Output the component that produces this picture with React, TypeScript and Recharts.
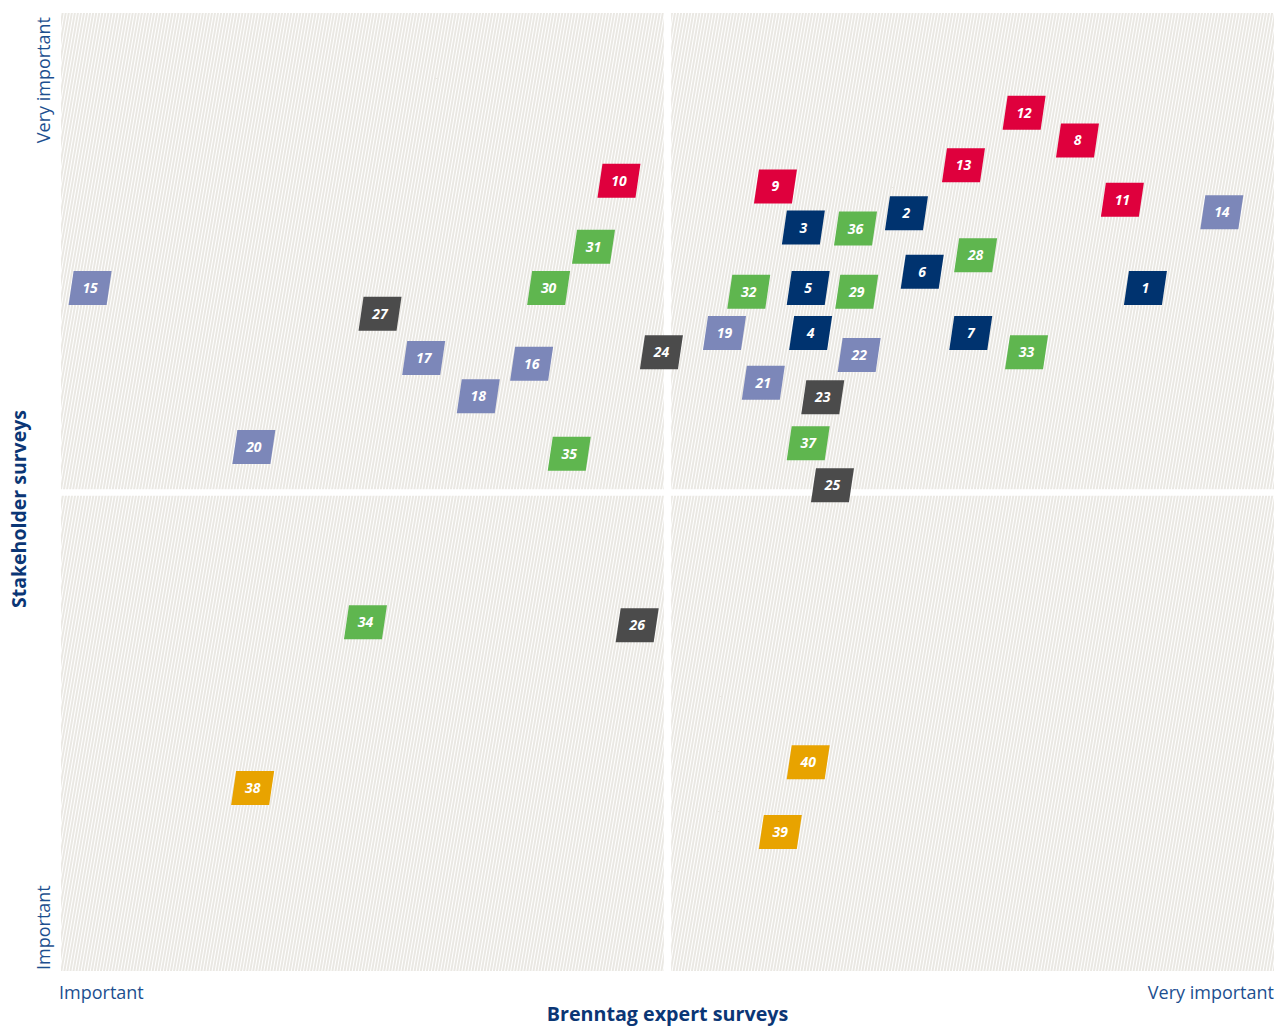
import {
  ScatterChart,
  Scatter,
  XAxis,
  YAxis,
  ReferenceArea,
} from "recharts"

// topic groups, values read from the matrix (0 = important, 100 = very important)
const economy = [
  { id: 1, x: 89.4, y: 71.3 },
  { id: 2, x: 69.7, y: 79.1 },
  { id: 3, x: 61.2, y: 77.6 },
  { id: 4, x: 61.8, y: 66.6 },
  { id: 5, x: 61.6, y: 71.3 },
  { id: 6, x: 71.0, y: 73.0 },
  { id: 7, x: 75.0, y: 66.6 },
]

const safety = [
  { id: 8, x: 83.8, y: 86.7 },
  { id: 9, x: 58.9, y: 81.9 },
  { id: 10, x: 46.0, y: 82.5 },
  { id: 11, x: 87.5, y: 80.5 },
  { id: 12, x: 79.4, y: 89.6 },
  { id: 13, x: 74.4, y: 84.1 },
]

const social = [
  { id: 14, x: 95.7, y: 79.2 },
  { id: 15, x: 2.4, y: 71.3 },
  { id: 16, x: 38.8, y: 63.4 },
  { id: 17, x: 29.9, y: 64.0 },
  { id: 18, x: 34.4, y: 60.0 },
  { id: 19, x: 54.7, y: 66.6 },
  { id: 20, x: 15.9, y: 54.7 },
  { id: 21, x: 57.9, y: 61.4 },
  { id: 22, x: 65.8, y: 64.3 },
]

const governance = [
  { id: 23, x: 62.8, y: 59.9 },
  { id: 24, x: 49.5, y: 64.6 },
  { id: 25, x: 63.6, y: 50.7 },
  { id: 26, x: 47.5, y: 36.1 },
  { id: 27, x: 26.3, y: 68.6 },
]

const environment = [
  { id: 28, x: 75.4, y: 74.7 },
  { id: 29, x: 65.6, y: 70.9 },
  { id: 30, x: 40.2, y: 71.3 },
  { id: 31, x: 43.9, y: 75.6 },
  { id: 32, x: 56.7, y: 70.9 },
  { id: 33, x: 79.6, y: 64.6 },
  { id: 34, x: 25.1, y: 36.4 },
  { id: 35, x: 41.9, y: 54.0 },
  { id: 36, x: 65.5, y: 77.5 },
  { id: 37, x: 61.6, y: 55.1 },
]

const products = [
  { id: 38, x: 15.8, y: 19.1 },
  { id: 39, x: 59.3, y: 14.5 },
  { id: 40, x: 61.6, y: 21.8 },
]

const axisTicks = [0, 100]
const tickNames = ["Important", "Very important"]

const FONT = "'Open Sans', 'Noto Sans', sans-serif"
const TICK_BLUE = "#1d4f8f"
const TITLE_BLUE = "#0b3675"

const Marker = (props: any) => {
  const { cx, cy, fill, payload } = props
  if (cx == null || cy == null) return null
  const hw = 19
  const hh = 17
  const sk = 2.5
  const pts = [
    [cx - hw + sk, cy - hh],
    [cx + hw + sk, cy - hh],
    [cx + hw - sk, cy + hh],
    [cx - hw - sk, cy + hh],
  ]
    .map((p) => p.join(","))
    .join(" ")
  return (
    <g>
      <polygon points={pts} fill={fill} />
      <text
        x={cx}
        y={cy + 5}
        textAnchor="middle"
        fill="#fff"
        fontFamily={FONT}
        fontWeight={700}
        fontStyle="italic"
        fontSize={14}
      >
        {payload.id}
      </text>
    </g>
  )
}

const XTick = (props: any) => {
  const { x, y, payload } = props
  const first = payload.value === axisTicks[0]
  return (
    <text
      x={first ? x - 2 : x + 8}
      y={y + 28}
      textAnchor={first ? "start" : "end"}
      fill={TICK_BLUE}
      fontFamily={FONT}
      fontSize={18}
    >
      {tickNames[axisTicks.indexOf(payload.value)]}
    </text>
  )
}

const YTick = (props: any) => {
  const { x, y, payload } = props
  const first = payload.value === axisTicks[0]
  const tx = x - 11
  const ty = first ? y - 1 : y + 4
  return (
    <text
      x={tx}
      y={ty}
      transform={`rotate(-90, ${tx}, ${ty})`}
      textAnchor={first ? "start" : "end"}
      fill={TICK_BLUE}
      fontFamily={FONT}
      fontSize={18}
    >
      {tickNames[axisTicks.indexOf(payload.value)]}
    </text>
  )
}

const XTitle = (props: any) => {
  const { viewBox } = props
  if (!viewBox) return null
  return (
    <text
      x={viewBox.x + viewBox.width / 2}
      y={viewBox.y + viewBox.height - 5}
      textAnchor="middle"
      fill={TITLE_BLUE}
      fontFamily={FONT}
      fontWeight={700}
      fontSize={19.7}
    >
      Brenntag expert surveys
    </text>
  )
}

const YTitle = (props: any) => {
  const { viewBox } = props
  if (!viewBox) return null
  const tx = viewBox.x + 26
  const ty = viewBox.y + viewBox.height / 2 + 17
  return (
    <text
      x={tx}
      y={ty}
      transform={`rotate(-90, ${tx}, ${ty})`}
      textAnchor="middle"
      fill={TITLE_BLUE}
      fontFamily={FONT}
      fontWeight={700}
      fontSize={19.5}
    >
      Stakeholder surveys
    </text>
  )
}

export default function App() {
  const quadrants = [
    { x1: 0, x2: 49.7, y1: 50.3, y2: 100 },
    { x1: 50.3, x2: 100, y1: 50.3, y2: 100 },
    { x1: 0, x2: 49.7, y1: 0, y2: 49.6 },
    { x1: 50.3, x2: 100, y1: 0, y2: 49.6 },
  ]

  return (
    <div style={{ width: 1278, height: 1026 }}>
      <style>{"body { margin: 0; }"}</style>
      <svg style={{ position: "absolute", width: 0, height: 0 }}>
        <defs>
          <pattern
            id="hatch"
            width={3}
            height={12}
            patternUnits="userSpaceOnUse"
            patternTransform="rotate(10)"
          >
            <rect width={3} height={12} fill="#ffffff" />
            <line x1={1} y1={0} x2={1} y2={12} stroke="#d9d5cc" strokeWidth={1.1} />
          </pattern>
        </defs>
      </svg>
      <ScatterChart
        width={1278}
        height={1026}
        margin={{ top: 13, right: 4, bottom: 0, left: 0 }}
      >
        <XAxis
          type="number"
          dataKey="x"
          domain={[0, 100]}
          ticks={axisTicks}
          tick={<XTick />}
          tickSize={0}
          tickMargin={0}
          axisLine={false}
          tickLine={false}
          height={55}
          label={<XTitle />}
        />
        <YAxis
          type="number"
          dataKey="y"
          domain={[0, 100]}
          ticks={axisTicks}
          tick={<YTick />}
          tickSize={0}
          tickMargin={0}
          axisLine={false}
          tickLine={false}
          width={61}
          label={<YTitle />}
        />
        {quadrants.map((q, i) => (
          <ReferenceArea
            key={i}
            x1={q.x1}
            x2={q.x2}
            y1={q.y1}
            y2={q.y2}
            fill="url(#hatch)"
            fillOpacity={1}
            stroke="none"
          />
        ))}
        <Scatter data={economy} fill="#00336f" shape={Marker} isAnimationActive={false} />
        <Scatter data={safety} fill="#df003d" shape={Marker} isAnimationActive={false} />
        <Scatter data={social} fill="#7c87b9" shape={Marker} isAnimationActive={false} />
        <Scatter data={governance} fill="#4b4b4b" shape={Marker} isAnimationActive={false} />
        <Scatter data={environment} fill="#5fb64f" shape={Marker} isAnimationActive={false} />
        <Scatter data={products} fill="#e8a300" shape={Marker} isAnimationActive={false} />
      </ScatterChart>
    </div>
  )
}
